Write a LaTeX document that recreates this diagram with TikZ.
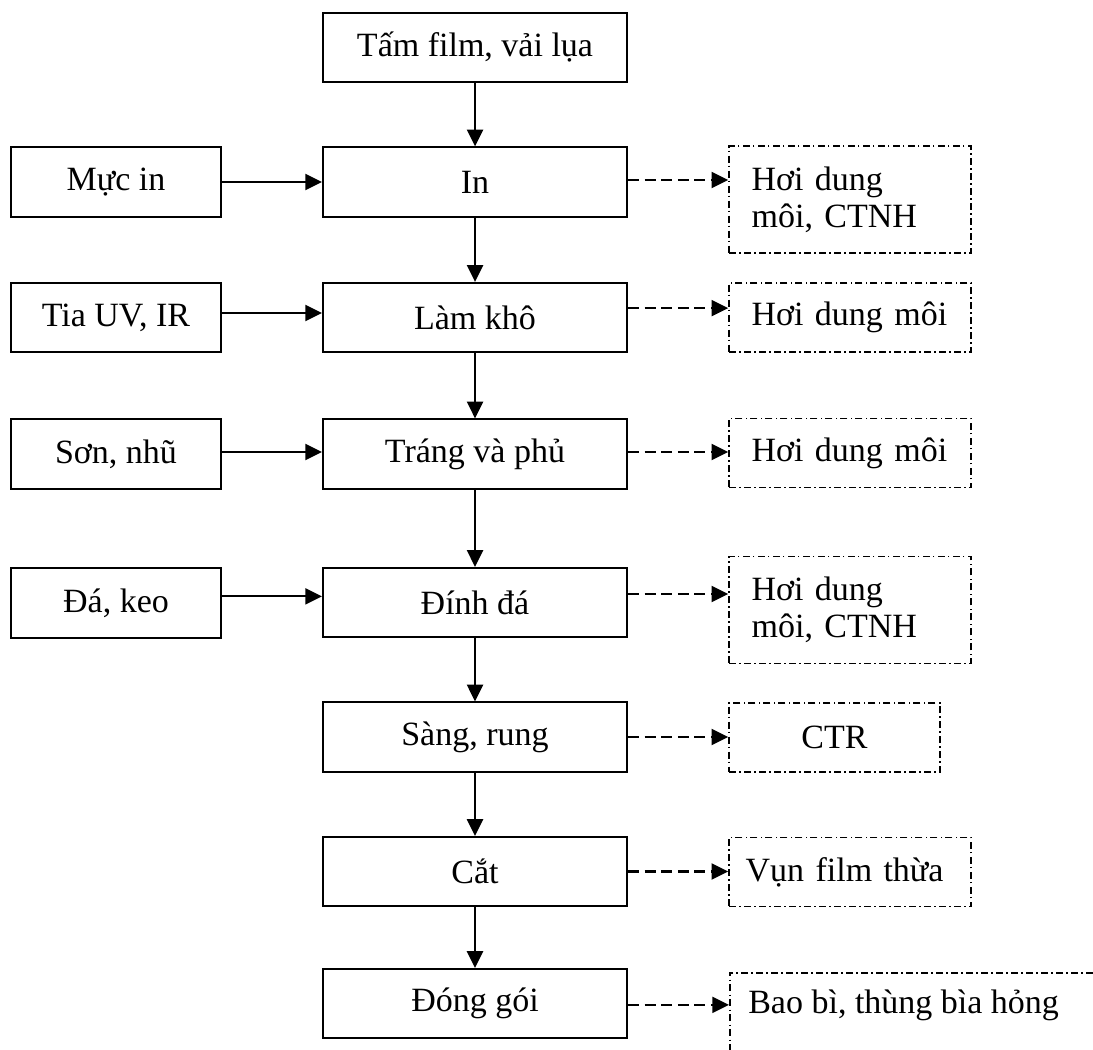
\documentclass[tikz,border=0pt]{standalone}
\usepackage{fontspec}
\setmainfont{Liberation Serif}
\usetikzlibrary{arrows.meta}
\tikzset{
  txt/.style={font=\fontsize{25.5}{28}\selectfont},
  mainbox/.style={draw, line width=1.5pt, txt, minimum width=228pt, minimum height=52pt, inner sep=2pt},
  inbox/.style={draw, line width=1.5pt, txt, minimum width=157.5pt, minimum height=52pt, inner sep=2pt},
  outbox/.style={draw, line width=1.2pt, txt, dash pattern=on 5.25pt off 2.4pt on 1.2pt off 2.4pt},
  hoibox/.style={outbox, text width=147.5pt, inner xsep=17pt, inner ysep=2pt, align=left},
  arr/.style={line width=1.6pt, -{Triangle[length=12.5pt,width=12pt]}},
  dasharr/.style={line width=1.6pt, dash pattern=on 8.25pt off 4.2pt, -{Triangle[length=12.5pt,width=12pt]}}
}
\begin{document}
\begin{tikzpicture}[x=0.75pt,y=-0.75pt]
\clip (0,0) rectangle (1093,1050);
\fill[white] (0,0) rectangle (1093,1050);

% main column
\node[mainbox] (tam) at (475,47.5) {Tấm film, vải lụa};
\node[mainbox] (in)  at (475,182)  {In};
\node[mainbox] (lk)  at (475,317.5){Làm khô};
\node[mainbox] (tp)  at (475,454)  {Tráng và phủ};
\node[mainbox] (dd)  at (475,602.5){Đính đá};
\node[mainbox] (sr)  at (475,737)  {Sàng, rung};
\node[mainbox] (cat) at (475,871.5){Cắt};
\node[mainbox] (dg)  at (475,1003.5){Đóng gói};

% inputs
\node[inbox] (mi)  at (116,182)   {Mực in};
\node[inbox] (tia) at (116,317.5) {Tia UV, IR};
\node[inbox] (son) at (116,454)   {Sơn, nhũ};
\node[inbox] (da)  at (116,603)   {Đá, keo};

% outputs
\node[hoibox, minimum height=80pt] (r1) at (850,199.5) {Hơi dung\\môi, CTNH};
\node[hoibox, minimum height=52pt] (r2) at (850,317.5) {Hơi dung môi};
\node[hoibox, minimum height=52pt] (r3) at (850,453)   {Hơi dung môi};
\node[hoibox, minimum height=80pt] (r4) at (850,610)   {Hơi dung\\môi, CTNH};
\node[outbox, minimum width=158.25pt, minimum height=52pt] (r5) at (834.5,737.5) {CTR};
\node[outbox, text width=156.5pt, inner xsep=12.5pt, inner ysep=2pt, align=left, minimum height=52pt] (r6) at (850,872) {Vụn film thừa};
\node[outbox, anchor=north west, minimum width=300pt, minimum height=100pt] (bao) at (729,972) {};
\node[txt, anchor=west, inner sep=0pt] (baot) at (748,1005) {Bao bì, thùng bìa hỏng};

% main flow
\draw[arr] (tam.south) -- (in.north);
\draw[arr] (in.south) -- (lk.north);
\draw[arr] (lk.south) -- (tp.north);
\draw[arr] (tp.south) -- (dd.north);
\draw[arr] (dd.south) -- (sr.north);
\draw[arr] (sr.south) -- (cat.north);
\draw[arr] (cat.south) -- (dg.north);

% inputs
\draw[arr] (mi.east) -- (mi.east -| in.west);
\draw[arr] ([yshift=3.4pt]tia.east) -- ([yshift=3.4pt]tia.east -| lk.west);
\draw[arr] ([yshift=1.5pt]son.east) -- ([yshift=1.5pt]son.east -| tp.west);
\draw[arr] ([yshift=5pt]da.east) -- ([yshift=5pt]da.east -| dd.west);

% outputs
\draw[dasharr] ([yshift=1.5pt]in.east) -- ([yshift=1.5pt]in.east -| r1.west);
\draw[dasharr] ([yshift=7pt]lk.east) -- ([yshift=7pt]lk.east -| r2.west);
\draw[dasharr] ([yshift=1.5pt]tp.east) -- ([yshift=1.5pt]tp.east -| r3.west);
\draw[dasharr] ([yshift=6.4pt]dd.east) -- ([yshift=6.4pt]dd.east -| r4.west);
\draw[dasharr] (sr.east) -- (sr.east -| r5.west);
\draw[dasharr] (cat.east) -- (cat.east -| r6.west);
\draw[dasharr] ([yshift=-1pt]dg.east) -- ([yshift=-1pt]dg.east -| bao.west);
\end{tikzpicture}
\end{document}
